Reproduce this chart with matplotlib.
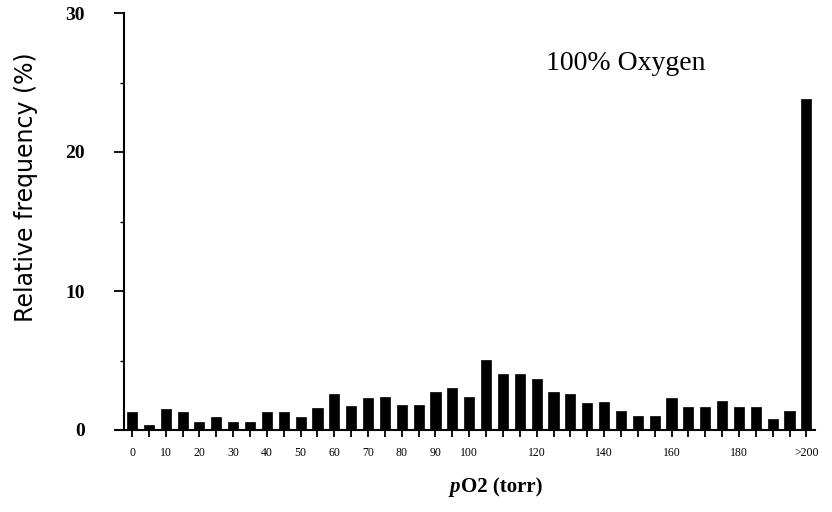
import matplotlib
matplotlib.use("Agg")
import matplotlib.pyplot as plt
from matplotlib.ticker import MultipleLocator

# Data
bins = [str(v) for v in range(0, 200, 5)] + [">200"]
values = [1.27, 0.36, 1.51, 1.30, 0.60, 0.94, 0.60, 0.60, 1.32, 1.32,
          0.94, 1.60, 2.60, 1.75, 2.28, 2.38, 1.80, 1.80, 2.72, 3.03,
          2.40, 5.05, 4.00, 4.00, 3.68, 2.74, 2.62, 1.97, 2.00, 1.35,
          0.99, 0.99, 2.30, 1.68, 1.68, 2.10, 1.63, 1.68, 0.82, 1.35,
          23.8]
shown_labels = ["0", "10", "20", "30", "40", "50", "60", "70", "80", "90",
                "100", "120", "140", "160", "180", ">200"]
y_ticks = [0, 10, 20, 30]

W, H = 832, 512
fig = plt.figure(figsize=(W / 100, H / 100), dpi=100)

def px(x, y):
    return x / W, 1 - y / H

x0_px, step_px = 132.0, 16.86
left_px, right_px, top_px, bot_px = 116, 815, 13, 430
ax = fig.add_axes([left_px / W, 1 - bot_px / H, (right_px - left_px) / W, (bot_px - top_px) / H])

xs = list(range(len(bins)))
ax.bar(xs, values, width=0.6, color="black", edgecolor="black", linewidth=0.5)

ax.set_xlim((left_px - x0_px) / step_px, (right_px - x0_px) / step_px)
ax.set_ylim(0, 30)

for s in ["top", "right"]:
    ax.spines[s].set_visible(False)
ax.spines["left"].set_position(("data", (124 - x0_px) / step_px))
ax.spines["left"].set_linewidth(1.5)
ax.spines["bottom"].set_linewidth(1.5)

ax.set_xticks(xs)
ax.set_xticklabels([b if b in shown_labels else "" for b in bins],
                   fontfamily="Liberation Serif", fontsize=8.5)
ax.tick_params(axis="x", direction="out", length=5, width=1.3, pad=7)

ax.set_yticks(y_ticks)
ax.set_yticklabels([str(t) for t in y_ticks], fontfamily="Liberation Serif",
                   fontweight="bold", fontsize=14)
ax.yaxis.set_minor_locator(MultipleLocator(5))
ax.tick_params(axis="y", which="major", direction="out", length=7, width=1.3, pad=21)
ax.tick_params(axis="y", which="minor", direction="out", length=3, width=1.0)

fig.text(*px(26, 187), "Relative frequency (%)", rotation=90, ha="center", va="center",
         fontfamily="DejaVu Sans", fontsize=17)

# x label: italic "p" followed by bold "O2 (torr)", centred as a group
fig.canvas.draw()
renderer = fig.canvas.get_renderer()
xl_cx, xl_cy = 496, 487
t_p = fig.text(0, 0, "p", ha="left", va="center", fontfamily="Liberation Serif",
               fontweight="bold", fontstyle="italic", fontsize=15)
t_r = fig.text(0, 0, "O2 (torr)", ha="left", va="center", fontfamily="Liberation Serif",
               fontweight="bold", fontsize=15)
wp = t_p.get_window_extent(renderer).width
wr = t_r.get_window_extent(renderer).width
start = xl_cx - (wp + wr + 1) / 2
t_p.set_position(px(start, xl_cy))
t_r.set_position(px(start + wp + 1, xl_cy))

fig.text(*px(626, 63), "100% Oxygen", ha="center", va="center",
         fontfamily="Liberation Serif", fontsize=20)

fig.savefig("out.png", dpi=100)
